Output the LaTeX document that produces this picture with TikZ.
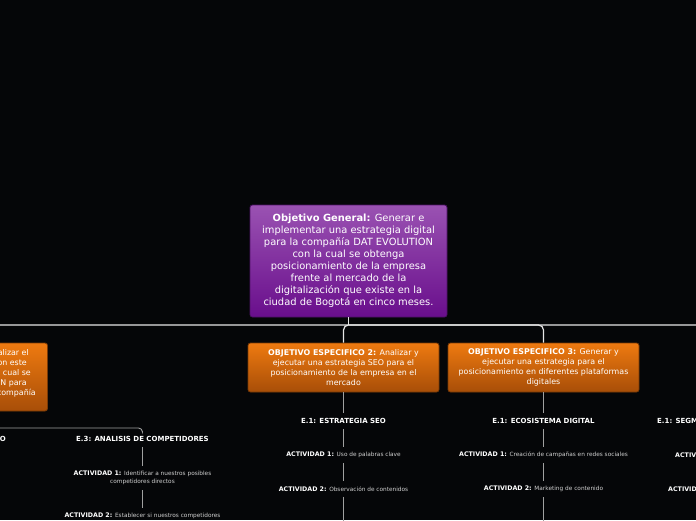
\documentclass[tikz,border=0pt]{standalone}
\usepackage{fontspec}
\setmainfont{DejaVu Sans}
\definecolor{bg}{HTML}{050608}
\definecolor{ptop}{HTML}{9A52B2}
\definecolor{pbot}{HTML}{690E8C}
\definecolor{pedge}{HTML}{4E1266}
\definecolor{otop}{HTML}{EE7A10}
\definecolor{obot}{HTML}{A84E08}
\definecolor{oedge}{HTML}{7A3A06}
\definecolor{mainline}{HTML}{E6E6E6}
\definecolor{subline}{HTML}{A0A0A0}
\definecolor{desc}{HTML}{CFCFCF}
\newcommand{\dsc}[1]{\textcolor{desc}{\fontsize{5.8}{8}\selectfont #1}}
\begin{document}
\begin{tikzpicture}[x=1pt,y=-1pt,
  mainbox/.style={draw=pedge, line width=0.8pt, rounded corners=2.5pt,
    top color=ptop, bottom color=pbot, text=white, align=center,
    minimum width=197pt, minimum height=112pt, inner sep=0pt,
    font=\fontsize{9.9}{12}\selectfont},
  objbox/.style={draw=oedge, line width=0.8pt, rounded corners=2.5pt,
    top color=otop, bottom color=obot, text=white, align=center,
    minimum width=191pt, inner sep=0pt,
    font=\fontsize{7.9}{9.8}\selectfont},
  subtitle/.style={text=white, inner xsep=1pt, inner ysep=5pt,
    font=\fontsize{7}{8}\bfseries\selectfont},
  activity/.style={text=white, inner xsep=1pt, inner ysep=5pt, align=center,
    font=\fontsize{6.3}{8}\selectfont},
  trunk/.style={draw=mainline, line width=1.2pt, rounded corners=5pt},
  branch/.style={draw=subline, line width=0.9pt, rounded corners=4pt}
]
\useasboundingbox (0,0) rectangle (696,520);
\fill[bg] (0,0) rectangle (696,520);
\clip (0,0) rectangle (696,520);

% main box
\node[mainbox] (T) at (348.5,261) {\textbf{Objetivo General:} Generar e\\implementar una estrategia digital\\para la compañía DAT EVOLUTION\\con la cual se obtenga\\posicionamiento de la empresa\\frente al mercado de la\\digitalización que existe en la\\ciudad de Bogotá en cinco meses.};

% specific objectives
\node[objbox, minimum height=68pt] (B1) at (-48,377) {};
\node[text=white, align=right, anchor=east, inner sep=0pt,
  font=\fontsize{7.9}{10}\selectfont] (B1txt) at (36,373)
  {alizar el\kern7pt\\on este\kern9pt\\cual se\kern5pt\\N para\kern9pt\\compañía};
\node[objbox, minimum height=49pt] (B2) at (343.5,367.5) {\textbf{OBJETIVO ESPECIFICO 2:} Analizar y\\ejecutar una estrategia SEO para el\\posicionamiento de la empresa en el\\mercado};
\node[objbox, minimum height=49pt] (B3) at (543.5,367.5) {\textbf{OBJETIVO ESPECIFICO 3:} Generar y\\ejecutar una estrategia para el\\posicionamiento en diferentes plataformas\\digitales};
\coordinate (R4) at (760,343);

% trunk connectors
\coordinate (H) at (348.5,325);
\draw[trunk] (T.south) -- (H);
\draw[trunk] (H) -| (B1.north);
\draw[trunk] (H) -| (B2.north);
\draw[trunk] (H) -| (B3.north);
\draw[trunk] (H) -| (R4);

% column 2
\node[subtitle] (S2) at (343.5,421) {E.1: ESTRATEGIA SEO};
\node[activity] (S2a) at (343.5,455) {\textbf{ACTIVIDAD 1:} \dsc{Uso de palabras clave}};
\node[activity] (S2b) at (343.5,489) {\textbf{ACTIVIDAD 2:} \dsc{Observación de contenidos}};
\coordinate (S2end) at (343.5,530);
\draw[branch] (B2.south) -- (S2.north);
\draw[branch] (S2.south) -- (S2a.north);
\draw[branch] (S2a.south) -- (S2b.north);
\draw[branch] (S2b.south) -- (S2end);

% column 3
\node[subtitle] (S3) at (543.5,421) {E.1: ECOSISTEMA DIGITAL};
\node[activity] (S3a) at (543.5,455) {\textbf{ACTIVIDAD 1:} \dsc{Creación de campañas en redes sociales}};
\node[activity] (S3b) at (543.5,489) {\textbf{ACTIVIDAD 2:} \dsc{Marketing de contenido}};
\coordinate (S3end) at (543.5,530);
\draw[branch] (B3.south) -- (S3.north);
\draw[branch] (S3.south) -- (S3a.north);
\draw[branch] (S3a.south) -- (S3b.north);
\draw[branch] (S3b.south) -- (S3end);

% right column fragments
\node[subtitle, anchor=west] (S4) at (656,421) {E.1: SEGM};
\node[activity, anchor=west] (S4a) at (674,455) {\textbf{ACTIV}};
\node[activity, anchor=west] (S4b) at (667,489) {\textbf{ACTIVID}};

% left column
\node[subtitle, anchor=east] (S0) at (7,439) {O};
\node[subtitle] (S1) at (142.5,439) {E.3: ANALISIS DE COMPETIDORES};
\node[activity] (S1a) at (142.5,478) {\textbf{ACTIVIDAD 1:} \dsc{Identificar a nuestros posibles}\\\dsc{competidores directos}};
\node[activity] (S1b) at (142.5,516) {\textbf{ACTIVIDAD 2:} \dsc{Establecer si nuestros competidores}};
\coordinate (L0) at (-60,428);
\draw[branch] (L0) -| (S1.north);
\draw[branch] (S1.south) -- (S1a.north);
\draw[branch] (S1a.south) -- (S1b.north);
\end{tikzpicture}
\end{document}
